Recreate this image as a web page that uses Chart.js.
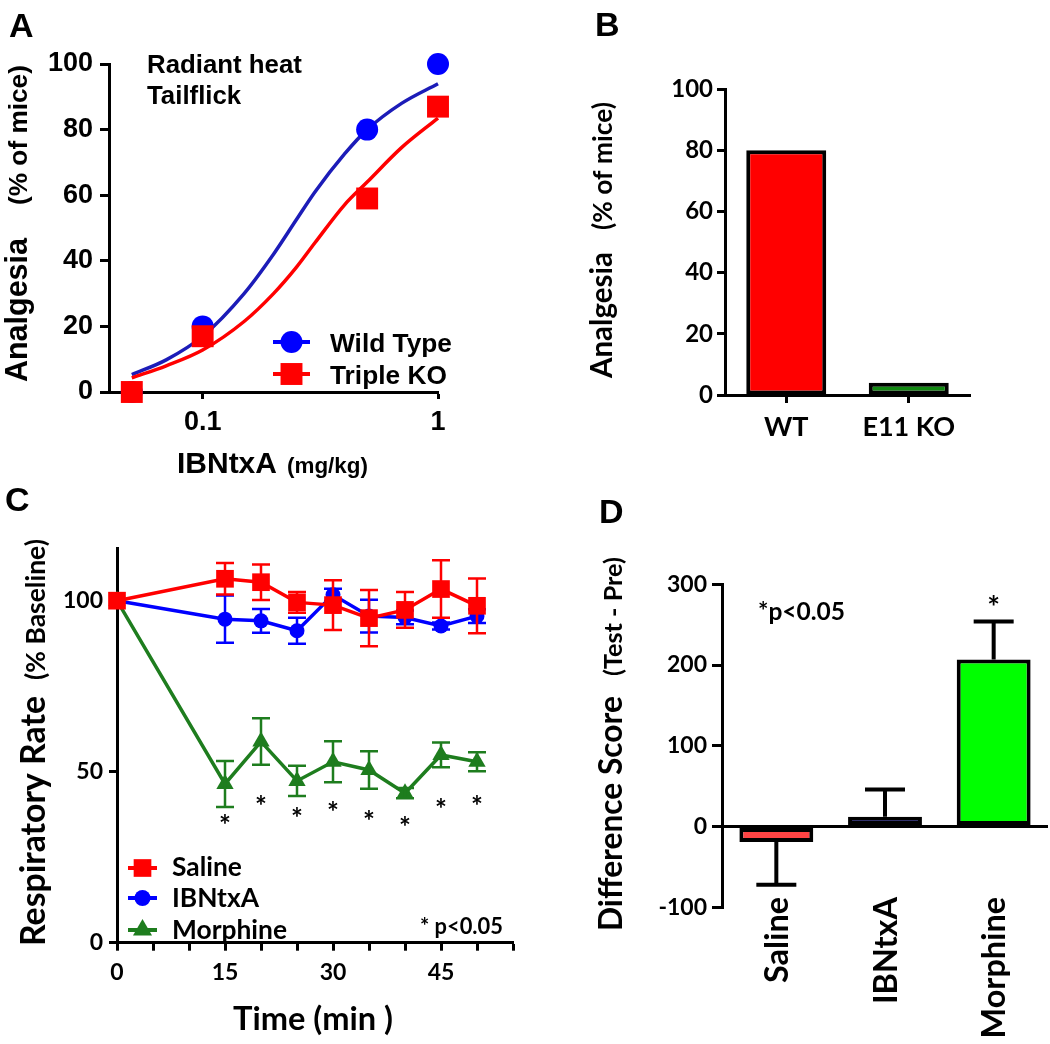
<!DOCTYPE html>
<html>
<head>
<meta charset="utf-8">
<script src="https://cdn.jsdelivr.net/npm/chart.js@4.4.1/dist/chart.umd.min.js"></script>
<style>
  body { margin: 0; background: #fff; width: 1050px; height: 1044px; position: relative; overflow: hidden; }
  canvas { position: absolute; }
</style>
</head>
<body>
<canvas id="chartA" width="520" height="490" style="left:0;top:0"></canvas>
<canvas id="chartB" width="530" height="480" style="left:520px;top:0"></canvas>
<canvas id="chartC" width="560" height="564" style="left:0;top:480px"></canvas>
<canvas id="chartD" width="490" height="564" style="left:560px;top:480px"></canvas>
<script>
const ARIAL = '"Liberation Sans", Arial, sans-serif';
const CALIBRI = 'Lato, "Liberation Sans", sans-serif';

// A - dose response, radiant heat tailflick
const doses = [0.05, 0.1, 0.5, 1];
const wtMice = [0, 20, 80, 100];
const koMice = [0, 17, 59, 87];
const fitDoses = [0.05, 0.07, 0.1, 0.15, 0.2, 0.25, 0.3, 0.4, 0.5, 0.7, 1];
const wtFit = [5.3, 9.8, 17, 30, 42, 52.5, 61, 72.5, 80, 88, 94];
const koFit = [4.3, 8, 12.8, 21.5, 30, 38, 45.5, 57, 64, 74.5, 83.5];
const doseTicks = [0.1, 1];

// B - WT vs E11 KO
const groupsB = ['WT', 'E11 KO'];
const analgesiaB = [80, 4];

// C - respiratory rate
const times = [0, 15, 20, 25, 30, 35, 40, 45, 50];
const salineMean = [100, 106.4, 105.4, 99.5, 98.7, 94.9, 97.3, 103.4, 98.5];
const salineSem = [0, 4.6, 5.2, 3, 7.3, 8.2, 5.2, 8.4, 8];
const ibntxaMean = [100, 94.6, 94.1, 91.2, 101.7, 95.5, 95.1, 92.6, 95.5];
const ibntxaSem = [0, 6.9, 3.5, 3.8, 1.8, 4.8, 2, 1, 2];
const morphineMean = [100, 46.4, 58.8, 47.3, 52.9, 50.5, 43.7, 54.9, 52.9];
const morphineSem = [0, 6.7, 6.8, 4.4, 6, 5.5, 1.5, 3.6, 2.8];
const starTimes = [15, 20, 25, 30, 35, 40, 45, 50];
const starY = [36, 41.4, 38, 39.8, 37, 35.4, 40.6, 41.4];

// D - difference score
const groupsD = ['Saline', 'IBNtxA', 'Morphine'];
const diffScore = [-19, 12, 207];
const diffSem = [53, 34, 47];
const diffColors = ['#ff4444', '#0a0af0', '#00ff00'];

function pts(xs, ys) {
    return xs.map((x, i) => ({ x: x, y: ys[i] }));
}

function fitSize(ctx, str, family, width) {
    ctx.save();
    ctx.font = 'bold 100px ' + family;
    const w = ctx.measureText(str).width;
    ctx.restore();
    return 100 * width / w;
}

function text(ctx, str, x, y, family, size, align, rotate) {
    ctx.save();
    ctx.translate(x, y);
    if (rotate) ctx.rotate(-Math.PI / 2);
    ctx.font = 'bold ' + size + 'px ' + family;
    ctx.fillStyle = '#000';
    ctx.textAlign = align || 'left';
    ctx.textBaseline = 'alphabetic';
    ctx.fillText(str, 0, 0);
    ctx.restore();
}

// text stretched to the width it has in the figure
function fitText(ctx, str, x, y, family, width, rotate) {
    text(ctx, str, x, y, family, fitSize(ctx, str, family, width), 'left', rotate);
}

function axisStyle(tickLength) {
    return {
        border: { display: true, color: '#000', width: 3 },
        grid: { drawOnChartArea: false, drawTicks: true, tickLength: tickLength, tickWidth: 3, tickColor: '#000', offset: false }
    };
}

function legendItem(ctx, color, style, radius, x1, x2, y) {
    ctx.save();
    ctx.strokeStyle = color;
    ctx.fillStyle = color;
    ctx.lineWidth = 4;
    ctx.beginPath();
    ctx.moveTo(x1, y);
    ctx.lineTo(x2, y);
    ctx.stroke();
    Chart.helpers.drawPoint(ctx, { pointStyle: style, radius: radius, rotation: 0, borderWidth: 0 }, (x1 + x2) / 2, y);
    ctx.restore();
}

const baseOptions = {
    responsive: false,
    animation: false,
    events: [],
    plugins: { legend: { display: false }, tooltip: { enabled: false } }
};

// ---------- A ----------
const decoA = {
    id: 'decoA',
    afterDraw(chart) {
        const ctx = chart.ctx;
        text(ctx, 'A', 9, 37, ARIAL, 34);
        const s = fitSize(ctx, 'Radiant heat', ARIAL, 155);
        text(ctx, 'Radiant heat', 147, 73, ARIAL, s);
        text(ctx, 'Tailflick', 147, 104, ARIAL, s);

        legendItem(ctx, '#0000ff', 'circle', 11, 273, 310, 342);
        legendItem(ctx, '#ff0000', 'rect', 15.5, 273, 310, 374);
        const ls = fitSize(ctx, 'Wild Type', ARIAL, 122);
        text(ctx, 'Wild Type', 330, 352, ARIAL, ls);
        text(ctx, 'Triple KO', 330, 384, ARIAL, ls);

        fitText(ctx, 'Analgesia', 27, 382, ARIAL, 144, true);
        fitText(ctx, '(% of mice)', 27, 205, ARIAL, 140, true);
        fitText(ctx, 'IBNtxA', 177, 473, ARIAL, 100);
        fitText(ctx, '(mg/kg)', 287, 473, ARIAL, 81);
    }
};

new Chart(document.getElementById('chartA'), {
    type: 'line',
    data: {
        datasets: [
            { data: pts(doses, koMice), showLine: false, clip: false, pointStyle: 'rect', pointRadius: 15.5, pointBackgroundColor: '#ff0000', pointBorderWidth: 0 },
            { data: pts(doses, wtMice), showLine: false, clip: false, pointStyle: 'circle', pointRadius: 11, pointBackgroundColor: '#0000ff', pointBorderWidth: 0 },
            { data: pts(fitDoses, koFit), clip: false, borderColor: '#ff0000', borderWidth: 3.5, pointRadius: 0, cubicInterpolationMode: 'monotone' },
            { data: pts(fitDoses, wtFit), clip: false, borderColor: '#1c1cb8', borderWidth: 3.5, pointRadius: 0, cubicInterpolationMode: 'monotone' }
        ]
    },
    options: Object.assign({}, baseOptions, {
        layout: { padding: { left: 0, top: 64, right: 82, bottom: 0 } },
        scales: {
            x: Object.assign(axisStyle(7), {
                type: 'logarithmic',
                min: 0.04,
                max: 1,
                afterBuildTicks: (scale) => { scale.ticks = doseTicks.map(v => ({ value: v })); },
                ticks: { callback: v => String(v), color: '#000', padding: 7, font: { family: ARIAL, size: 27, weight: 'bold' } },
                afterFit: (scale) => { scale.height = 98; }
            }),
            y: Object.assign(axisStyle(9), {
                min: 0,
                max: 100,
                ticks: { stepSize: 20, color: '#000', padding: 7, font: { family: ARIAL, size: 27, weight: 'bold' } },
                afterFit: (scale) => { scale.width = 109; }
            })
        }
    }),
    plugins: [decoA]
});

// ---------- B ----------
const decoB = {
    id: 'decoB',
    afterDraw(chart) {
        const ctx = chart.ctx;
        text(ctx, 'B', 75, 36, ARIAL, 34);
        fitText(ctx, 'Analgesia', 92, 378, CALIBRI, 126, true);
        fitText(ctx, '(% of mice)', 92, 230, CALIBRI, 128, true);
    }
};

new Chart(document.getElementById('chartB'), {
    type: 'bar',
    data: {
        labels: groupsB,
        datasets: [{
            data: analgesiaB,
            backgroundColor: ['#ff0000', '#118811'],
            borderColor: '#000',
            borderWidth: 4,
            borderSkipped: false,
            barPercentage: 0.653,
            categoryPercentage: 1
        }]
    },
    options: Object.assign({}, baseOptions, {
        layout: { padding: { left: 0, top: 89, right: 80, bottom: 0 } },
        scales: {
            x: Object.assign(axisStyle(8), {
                ticks: { color: '#000', padding: 8, font: { family: CALIBRI, size: 27, weight: 'bold' } },
                afterFit: (scale) => { scale.height = 85; }
            }),
            y: Object.assign(axisStyle(8), {
                min: 0,
                max: 100,
                ticks: { stepSize: 20, color: '#000', padding: 4, font: { family: CALIBRI, size: 24, weight: 'bold' } },
                afterFit: (scale) => { scale.width = 205; }
            })
        }
    }),
    plugins: [decoB]
});

// ---------- C ----------
const errorBarsC = {
    id: 'errorBarsC',
    afterDatasetDraw(chart, args) {
        const ds = chart.data.datasets[args.index];
        if (!ds.sem) return;
        const ctx = chart.ctx;
        const y = chart.scales.y;
        ctx.save();
        ctx.strokeStyle = ds.borderColor;
        ctx.lineWidth = 2.5;
        args.meta.data.forEach((pt, i) => {
            const e = ds.sem[i];
            if (!e) return;
            const top = y.getPixelForValue(ds.data[i].y + e);
            const bot = y.getPixelForValue(ds.data[i].y - e);
            ctx.beginPath();
            ctx.moveTo(pt.x, top);
            ctx.lineTo(pt.x, bot);
            ctx.moveTo(pt.x - 9, top);
            ctx.lineTo(pt.x + 9, top);
            ctx.moveTo(pt.x - 9, bot);
            ctx.lineTo(pt.x + 9, bot);
            ctx.stroke();
        });
        ctx.restore();
    }
};

const decoC = {
    id: 'decoC',
    afterDraw(chart) {
        const ctx = chart.ctx;
        text(ctx, 'C', 5, 31, ARIAL, 34);
        fitText(ctx, 'Respiratory Rate', 45, 466, CALIBRI, 250, true);
        fitText(ctx, '(% Baseline)', 45, 200, CALIBRI, 141, true);
        fitText(ctx, 'Time (min )', 233, 550, CALIBRI, 160);

        legendItem(ctx, '#ff0000', 'rect', 12.5, 128, 157, 388);
        legendItem(ctx, '#0000ff', 'circle', 8, 128, 157, 418);
        legendItem(ctx, '#1e7d1e', 'triangle', 11, 128, 157, 450);
        const ls = fitSize(ctx, 'Morphine', CALIBRI, 115);
        text(ctx, 'Saline', 172, 396, CALIBRI, ls);
        text(ctx, 'IBNtxA', 172, 427, CALIBRI, ls);
        text(ctx, 'Morphine', 172, 459, CALIBRI, ls);
        fitText(ctx, '* p<0.05', 420, 454, CALIBRI, 83);

        const xs = chart.scales.x;
        const ys = chart.scales.y;
        starTimes.forEach((t, i) => {
            text(ctx, '*', xs.getPixelForValue(t), ys.getPixelForValue(starY[i]) + 15, CALIBRI, 28, 'center');
        });
    }
};

function seriesC(mean, sem, color, style, radius) {
    return {
        data: pts(times, mean),
        sem: sem,
        clip: false,
        borderColor: color,
        borderWidth: 3.5,
        pointStyle: style,
        pointRadius: radius,
        pointBackgroundColor: color,
        pointBorderWidth: 0,
        tension: 0
    };
}

new Chart(document.getElementById('chartC'), {
    type: 'line',
    data: {
        datasets: [
            seriesC(salineMean, salineSem, '#ff0000', 'rect', 12.5),
            seriesC(ibntxaMean, ibntxaSem, '#0000ff', 'circle', 7.5),
            seriesC(morphineMean, morphineSem, '#1e7d1e', 'triangle', 10)
        ]
    },
    options: Object.assign({}, baseOptions, {
        layout: { padding: { left: 0, top: 68, right: 47, bottom: 0 } },
        scales: {
            x: Object.assign(axisStyle(8), {
                type: 'linear',
                min: 0,
                max: 55,
                ticks: { stepSize: 5, autoSkip: false, callback: v => (v % 15 === 0 ? String(v) : ''), color: '#000', padding: 8, font: { family: CALIBRI, size: 23, weight: 'bold' } },
                afterFit: (scale) => { scale.height = 101.3; }
            }),
            y: Object.assign(axisStyle(8), {
                min: 0,
                max: 115.4,
                ticks: { stepSize: 50, includeBounds: false, color: '#000', padding: 6, font: { family: CALIBRI, size: 23, weight: 'bold' } },
                afterFit: (scale) => { scale.width = 117; }
            })
        }
    }),
    plugins: [errorBarsC, decoC]
});

// ---------- D ----------
const decoD = {
    id: 'decoD',
    afterDatasetsDraw(chart) {
        const ctx = chart.ctx;
        const meta = chart.getDatasetMeta(0);
        const y = chart.scales.y;
        ctx.save();
        ctx.strokeStyle = '#000';
        ctx.lineWidth = 4;
        meta.data.forEach((bar, i) => {
            const v = diffScore[i];
            const end = y.getPixelForValue(v + (v < 0 ? -diffSem[i] : diffSem[i]));
            ctx.beginPath();
            ctx.moveTo(bar.x, y.getPixelForValue(v));
            ctx.lineTo(bar.x, end);
            ctx.moveTo(bar.x - 20, end);
            ctx.lineTo(bar.x + 20, end);
            ctx.stroke();
        });
        ctx.restore();
    },
    afterDraw(chart) {
        const ctx = chart.ctx;
        const meta = chart.getDatasetMeta(0);
        const y = chart.scales.y;
        text(ctx, 'D', 39, 43, ARIAL, 34);
        fitText(ctx, 'Difference Score', 62, 451, CALIBRI, 235, true);
        fitText(ctx, '(Test - Pre)', 62, 196, CALIBRI, 119, true);
        fitText(ctx, '*p<0.05', 198, 140, CALIBRI, 87);

        const m = meta.data[2];
        text(ctx, '*', m.x, y.getPixelForValue(diffScore[2] + diffSem[2]) - 19 + 16, CALIBRI, 30, 'center');

        const ls = fitSize(ctx, 'Saline', CALIBRI, 86);
        groupsD.forEach((g, i) => {
            text(ctx, g, meta.data[i].x + ls * 0.36, 417, CALIBRI, ls, 'right', true);
        });
    }
};

new Chart(document.getElementById('chartD'), {
    type: 'bar',
    data: {
        labels: groupsD,
        datasets: [{
            data: diffScore,
            backgroundColor: diffColors,
            borderColor: '#000',
            borderWidth: 4,
            borderSkipped: false,
            barPercentage: 0.68,
            categoryPercentage: 1
        }]
    },
    options: Object.assign({}, baseOptions, {
        layout: { padding: { left: 0, top: 104.3, right: 2, bottom: 136.7 } },
        scales: {
            x: { display: false },
            y: {
                min: -100,
                max: 300,
                border: { display: true, color: '#000', width: 3 },
                grid: {
                    drawOnChartArea: true,
                    drawTicks: true,
                    tickLength: 10,
                    tickWidth: 3,
                    tickColor: '#000',
                    lineWidth: 3,
                    color: c => (c.tick && c.tick.value === 0 ? '#000' : 'rgba(0,0,0,0)')
                },
                ticks: { stepSize: 100, color: '#000', padding: 5, font: { family: CALIBRI, size: 23, weight: 'bold' } },
                afterFit: (scale) => { scale.width = 162; }
            }
        }
    }),
    plugins: [decoD]
});
</script>
</body>
</html>
